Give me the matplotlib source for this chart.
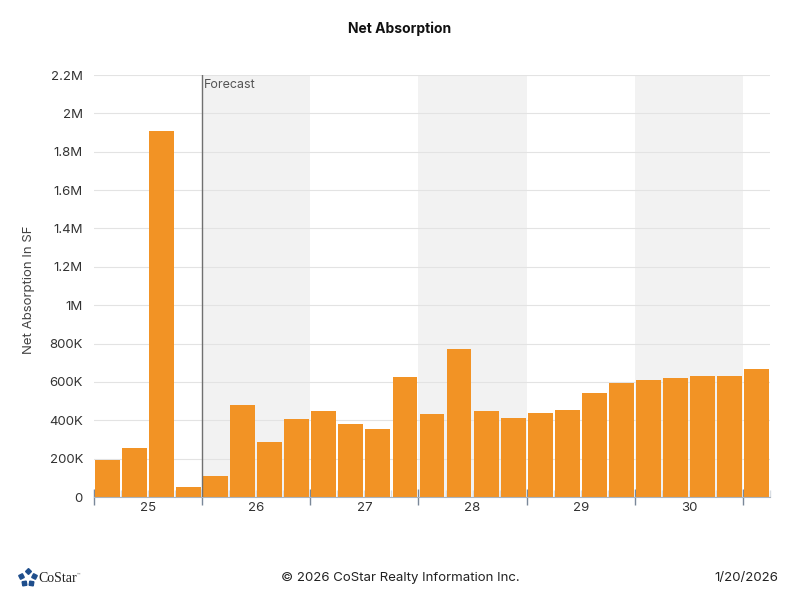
import matplotlib
matplotlib.use("Agg")
import matplotlib.pyplot as plt
from matplotlib.ticker import FuncFormatter, FixedLocator, MultipleLocator
import numpy as np

plt.rcParams['font.family'] = ['Inter', 'DejaVu Sans']

# quarterly net absorption, 2025 Q1 .. 2031 Q1
values = [193000, 254000, 1910000, 54000,
          109000, 480000, 288000, 407000,
          450000, 379000, 356000, 627000,
          433000, 772000, 447000, 410000,
          436000, 454000, 541000, 593000,
          612000, 619000, 633000, 631000,
          666000]
years = ['25', '26', '27', '28', '29', '30']
shaded_years = ['26', '28', '30']
forecast_after = 4  # first forecast bar index

bar_color = '#F29325'


def fmt(v, pos):
    if v == 0:
        return '0'
    if v >= 1e6:
        s = f'{v / 1e6:.1f}'.rstrip('0').rstrip('.')
        return s + 'M'
    return f'{int(v / 1e3)}K'


fig = plt.figure(figsize=(8, 6.15), dpi=100)
ax = fig.add_axes([94 / 800, 1 - 497 / 615, 676 / 800, 422 / 615])

x = np.arange(len(values))
for i, y in enumerate(years):
    if y in shaded_years:
        ax.axvspan(i * 4 - 0.5, i * 4 + 3.5, color='#f2f2f2', zorder=0, lw=0)

ax.bar(x, values, width=0.92, color=bar_color, zorder=2)

ax.axvline(forecast_after - 0.5, color='#707070', lw=1, zorder=4)
ax.text(forecast_after - 0.42, 2.18e6, 'Forecast', fontsize=9, color='#555555',
        va='top', ha='left', zorder=5)

ax.set_xlim(-0.5, len(values) - 0.5)
ax.set_ylim(0, 2.2e6)
ax.yaxis.set_major_locator(MultipleLocator(200000))
ax.yaxis.set_major_formatter(FuncFormatter(fmt))
ax.grid(axis='y', color='#e3e3e3', lw=0.8, zorder=1)
ax.tick_params(axis='y', length=0, labelsize=9.5, labelcolor='#333333', pad=8)

major = [i * 4 - 0.5 for i in range(len(years) + 1)]
ax.xaxis.set_major_locator(FixedLocator(major))
ax.xaxis.set_minor_locator(FixedLocator([i + 0.5 for i in range(-1, len(values))]))
ax.set_xticklabels([])
ax.tick_params(axis='x', which='major', direction='inout', length=11,
               color='#7a8899', width=1)
ax.tick_params(axis='x', which='minor', direction='in', length=5,
               color='#d8dde3', width=1)
for i, y in enumerate(years):
    ax.text(i * 4 + 1.5, -0.026, y, transform=ax.get_xaxis_transform(),
            ha='center', va='center', fontsize=9.5, color='#333333')

for s in ['top', 'right', 'left']:
    ax.spines[s].set_visible(False)
ax.spines['bottom'].set_color('#a9b4c0')

ax.set_ylabel('Net Absorption In SF', fontsize=9.5, color='#444444')
ax.yaxis.set_label_coords(-0.088, 0.49)

fig.text(0.5, 1 - 29 / 615, 'Net Absorption', ha='center', va='center',
         fontsize=10, fontweight='bold', color='#111111')

# footer
fy = 1 - 578 / 615
fig.text(0.5, fy, '\u00a9 2026 CoStar Realty Information Inc.', ha='center',
         va='center', fontsize=9.5, color='#222222')
fig.text(778 / 800, fy, '1/20/2026', ha='right', va='center', fontsize=9.5,
         color='#222222')
lx, ly = 27.5 / 800, fy
ang = np.linspace(0, 2 * np.pi, 5, endpoint=False) + np.pi / 2
for a in ang:
    fig.add_artist(plt.Line2D([lx + 0.0085 * np.cos(a)], [ly + 0.011 * np.sin(a)],
                              ls='none', marker=(4, 0, np.degrees(a)), ms=4.2,
                              color='#1f4e8c', transform=fig.transFigure))
fig.text(38 / 800, fy, 'CoStar', ha='left', va='center', fontsize=10,
         family='Liberation Serif', color='#222222')
fig.text(77 / 800, fy + 0.005, '\u2122', ha='left', va='center', fontsize=4,
         color='#666666')

fig.savefig('out.png', dpi=100)
